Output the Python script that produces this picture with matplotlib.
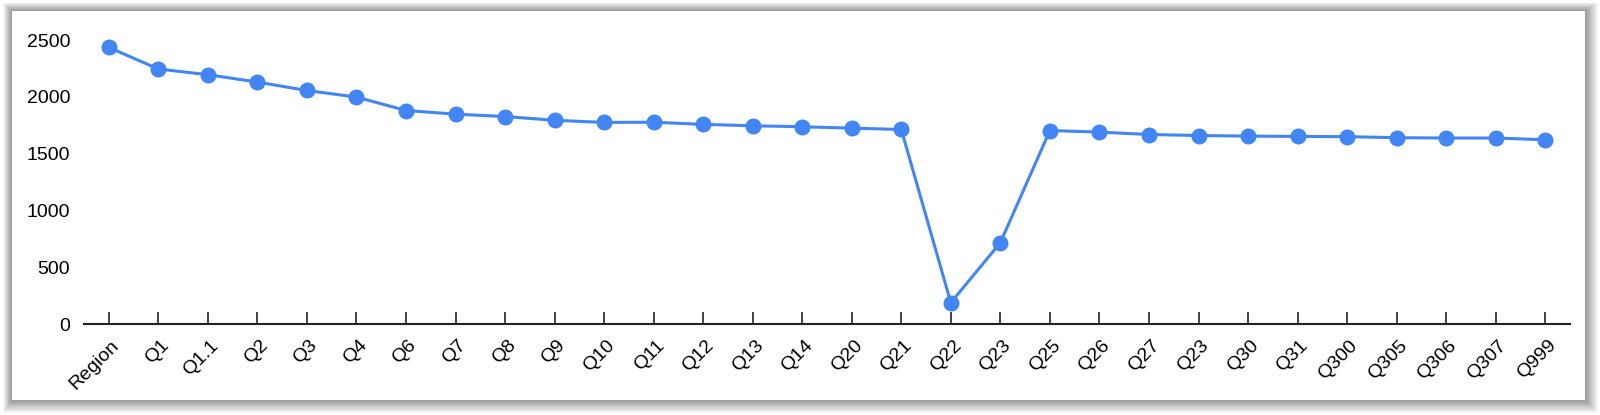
import matplotlib.pyplot as plt
import matplotlib.transforms as mtransforms
from matplotlib.patches import Rectangle

plt.rcParams["font.family"] = ["Liberation Sans", "DejaVu Sans"]

categories = ["Region", "Q1", "Q1.1", "Q2", "Q3", "Q4", "Q6", "Q7", "Q8", "Q9",
              "Q10", "Q11", "Q12", "Q13", "Q14", "Q20", "Q21", "Q22", "Q23", "Q25",
              "Q26", "Q27", "Q23", "Q30", "Q31", "Q300", "Q305", "Q306", "Q307", "Q999"]
values = [2435, 2245, 2195, 2130, 2056, 1998, 1880, 1848, 1827, 1794,
          1775, 1777, 1758, 1746, 1737, 1725, 1713, 190, 718, 1704,
          1690, 1669, 1660, 1655, 1652, 1650, 1641, 1638, 1638, 1623]
y_ticks = [0, 500, 1000, 1500, 2000, 2500]

W, H = 1600, 415
fig = plt.figure(figsize=(W / 100, H / 100), dpi=100)
fig.patch.set_facecolor("white")

# card with soft drop shadow
cx0, cx1, cy0, cy1 = 11.7, 1585, 11, 400
for i in range(14, 0, -1):
    left = cx0 - i * 0.6
    right = cx1 + i * 0.9
    top = cy0 - i * 0.6
    bottom = cy1 + i * 0.9
    fig.patches.append(Rectangle(
        (left / W, 1 - bottom / H), (right - left) / W, (bottom - top) / H,
        transform=fig.transFigure, facecolor="black", edgecolor="none",
        alpha=0.03, zorder=0))
fig.patches.append(Rectangle(
    (cx0 / W, 1 - cy1 / H), (cx1 - cx0) / W, (cy1 - cy0) / H,
    transform=fig.transFigure, facecolor="white", edgecolor="none", zorder=1))

ax = fig.add_axes([84 / W, (H - 324.3) / H, 1486 / W, (324.3 - 40) / H])
ax.set_facecolor("none")
ax.set_zorder(2)

x = list(range(len(categories)))
ax.plot(x, values, color="#4285F4", linewidth=2.2, marker="o",
        markersize=10.5, clip_on=False, zorder=3)

ax.set_xlim(-0.5, len(categories) - 0.5)
ax.set_ylim(0, 2500)
ax.set_yticks(y_ticks)
ax.set_yticklabels([str(v) for v in y_ticks], fontsize=14)
ax.tick_params(axis="y", length=0, pad=10)

ax.set_xticks(x)
ax.set_xticklabels(categories, fontsize=14, rotation=45, ha="right",
                   va="center", rotation_mode="anchor")
ax.tick_params(axis="x", direction="in", length=9, width=1.2, color="#222222", pad=14)
shift = mtransforms.ScaledTranslation(8 / 100, 1 / 100, fig.dpi_scale_trans)
for lbl in ax.get_xticklabels():
    lbl.set_transform(lbl.get_transform() + shift)

for s in ["top", "right", "left"]:
    ax.spines[s].set_visible(False)
ax.spines["bottom"].set_linewidth(1.5)
ax.spines["bottom"].set_color("#222222")

fig.savefig("out.png", dpi=100)
